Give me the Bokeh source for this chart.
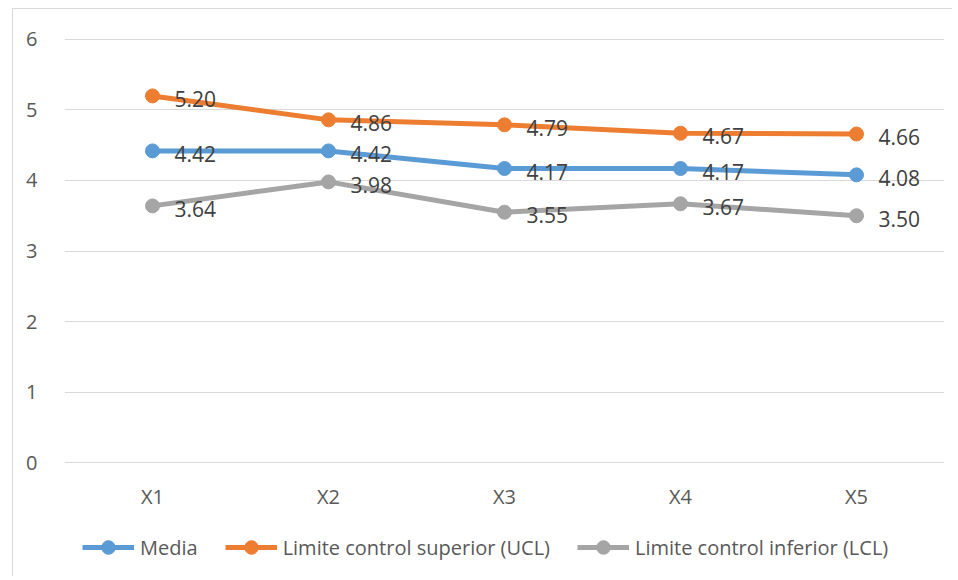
from bokeh.plotting import figure
from bokeh.layouts import column
from bokeh.models import FactorRange, Range1d, Legend, LegendItem, FixedTicker
from bokeh.core.properties import value
from bokeh.embed import file_html
from bokeh.resources import INLINE

categories = ["X1", "X2", "X3", "X4", "X5"]
media = [4.42, 4.42, 4.17, 4.17, 4.08]
ucl = [5.20, 4.86, 4.79, 4.67, 4.66]
lcl = [3.64, 3.98, 3.55, 3.67, 3.50]
y_ticks = [0, 1, 2, 3, 4, 5, 6]
series_names = ["Media", "Limite control superior (UCL)", "Limite control inferior (LCL)"]

FONT = "Open Sans"
colors = ["#5B9BD5", "#ED7D31", "#A5A5A5"]
pad = 0.0567

p = figure(
    x_range=FactorRange(*categories, range_padding=0),
    y_range=Range1d(y_ticks[0] - pad, y_ticks[-1] + pad),
    width=952, height=530,
    output_backend="svg", toolbar_location=None,
    min_border_left=64, min_border_right=8, min_border_top=35, min_border_bottom=64,
)
p.outline_line_color = None
p.background_fill_color = "white"
p.border_fill_alpha = 0

p.xgrid.grid_line_color = None
p.ygrid.ticker = FixedTicker(ticks=y_ticks)
p.ygrid.grid_line_color = "#D9D9D9"
p.ygrid.grid_line_width = 1

p.yaxis.ticker = FixedTicker(ticks=y_ticks)
for ax in (p.xaxis[0], p.yaxis[0]):
    ax.axis_line_color = None
    ax.major_tick_line_color = None
    ax.minor_tick_line_color = None
    ax.major_label_text_font = FONT
    ax.major_label_text_font_size = "20px"
    ax.major_label_text_color = "#595959"
p.yaxis.major_label_standoff = 21
p.xaxis.major_label_standoff = 10

for name, vals, col in zip(series_names, [media, ucl, lcl], colors):
    p.line(categories, vals, line_color=col, line_width=5)
    p.scatter(categories, vals, size=14, fill_color=col, line_color=col)

for vals in [media, ucl, lcl]:
    p.text(categories, vals, text=[f"{v:.2f}" for v in vals],
           x_offset=22, y_offset=3, text_align="left", text_baseline="middle",
           text_font=value(FONT), text_font_size="21px", text_color="#404040")

# legend strip below the chart (proxy glyphs with no visible data)
p2 = figure(width=952, height=46, x_range=Range1d(0, 1), y_range=Range1d(0, 1),
            output_backend="svg", toolbar_location=None,
            x_axis_location=None, y_axis_location=None,
            min_border_left=0, min_border_right=0, min_border_top=0, min_border_bottom=0)
p2.outline_line_color = None
p2.grid.visible = False
p2.background_fill_alpha = 0
p2.border_fill_alpha = 0
nan = float("nan")
items = []
for name, col in zip(series_names, colors):
    ln = p2.line(x=[nan], y=[nan], line_color=col, line_width=5)
    sc = p2.scatter(x=[nan], y=[nan], size=14, fill_color=col, line_color=col)
    items.append(LegendItem(label=name, renderers=[ln, sc]))

legend = Legend(items=items, orientation="horizontal", location=(18, 12),
                label_text_font=FONT, label_text_font_size="20px",
                label_text_color="#595959", glyph_width=52, glyph_height=34,
                label_standoff=6, spacing=27, border_line_color=None,
                background_fill_alpha=0, padding=0, margin=0)
p2.add_layout(legend, "center")

layout = column(p, p2, spacing=0)
layout.styles = {
    "background": "linear-gradient(#D9D9D9,#D9D9D9) 12px 8px / 1px 100% no-repeat, "
                  "linear-gradient(#D9D9D9,#D9D9D9) 12px 8px / 100% 1px no-repeat, white"
}

open("out.html", "w").write(file_html(layout, INLINE))
